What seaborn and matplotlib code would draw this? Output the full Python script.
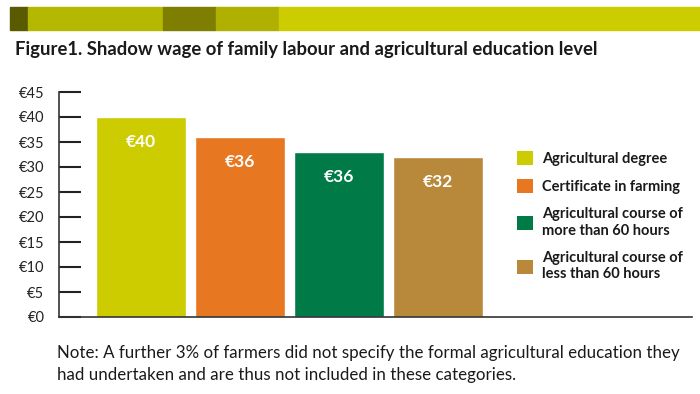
import numpy as np
import matplotlib
matplotlib.use("Agg")
import matplotlib.pyplot as plt
from matplotlib.patches import Rectangle, Patch
import seaborn as sns

sns.set_style("white")
plt.rcParams["font.family"] = ["Lato", "DejaVu Sans"]

# data
categories = ["Agricultural degree", "Certificate in farming",
              "Agricultural course of\nmore than 60 hours",
              "Agricultural course of\nless than 60 hours"]
values = [40, 36, 33, 32]
bar_labels = ["€40", "€36", "€36", "€32"]
colors = ["#cccc00", "#e87722", "#007a47", "#b8893a"]
yticks = list(range(0, 50, 5))
title = "Figure1. Shadow wage of family labour and agricultural education level"
note = ("Note: A further 3% of farmers did not specify the formal agricultural education they\n"
        "had undertaken and are thus not included in these categories.")

fig = plt.figure(figsize=(7, 3.94), dpi=100)

# decorative header band
band = [(10, 28, "#5a5a00"), (28, 163, "#b5b800"), (163, 216, "#7e7e00"),
        (216, 279, "#b0b000"), (279, 700, "#cccc00")]
for x0, x1, c in band:
    fig.patches.append(Rectangle((x0 / 700, 1 - 30 / 394), (x1 - x0) / 700, 23 / 394,
                                 transform=fig.transFigure, color=c, zorder=0))

fig.text(15 / 700, 1 - 50 / 394, title, fontsize=13.3, fontweight="bold",
         va="center", ha="left", color="#1a1a1a")

ax = fig.add_axes([59 / 700, 1 - 317 / 394, (692 - 59) / 700, (317 - 92) / 394])
sns.barplot(x=np.arange(len(values)), y=values, hue=np.arange(len(values)),
            palette=colors, legend=False, width=0.91, saturation=1, ax=ax)
ax.set_xlim(-0.83, 5.57)
ax.set_ylim(0, 45)
ax.set_yticks(yticks)
ax.set_yticklabels([f"€{v}" for v in yticks], fontsize=10.5, color="#222222")
ax.tick_params(axis="y", left=True, direction="in", length=16, width=1.5,
               color="#222222", pad=10.5)
ax.set_xticks([])
ax.set_xlabel("")
ax.set_ylabel("")
for s in ["top", "right"]:
    ax.spines[s].set_visible(False)
for s in ["left", "bottom"]:
    ax.spines[s].set_color("#333333")
    ax.spines[s].set_linewidth(1.2)

for i, (v, lab) in enumerate(zip(values, bar_labels)):
    ax.text(i, v - 5, lab, ha="center", va="center", color="white",
            fontsize=12.5, fontweight="bold")

handles = [Patch(facecolor=c, edgecolor="none") for c in colors]
leg = ax.legend(handles, categories, loc="upper left", bbox_to_anchor=(0.715, 0.765),
                frameon=False, fontsize=10.5, handlelength=1.1, handleheight=1.1,
                handletextpad=0.6, labelspacing=0.92, borderaxespad=0)
for t in leg.get_texts():
    t.set_fontweight("bold")
    t.set_color("#1a1a1a")
    t.set_multialignment("left")

fig.text(57 / 700, 1 - 364 / 394, note, fontsize=12.2, va="center", ha="left",
         color="#1a1a1a", linespacing=1.4)

fig.savefig("out.png", dpi=100)
